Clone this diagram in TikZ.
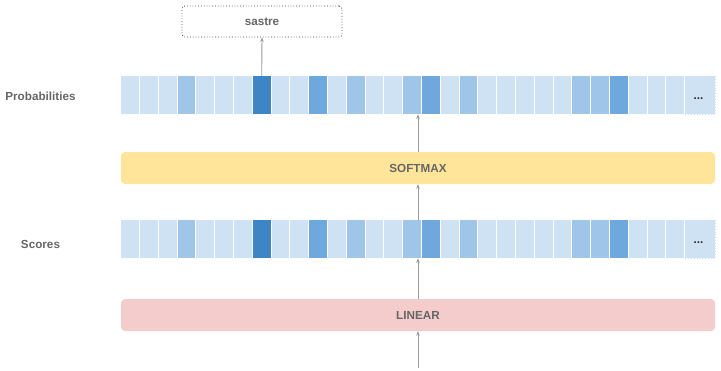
\documentclass[tikz,border=0pt]{standalone}
\usepackage{fontspec}
\setmainfont{Liberation Sans}
\usetikzlibrary{arrows.meta}
\definecolor{cL}{HTML}{CFE2F3}
\definecolor{cM}{HTML}{9FC5E8}
\definecolor{cD}{HTML}{6FA8DC}
\definecolor{cX}{HTML}{3D85C6}
\definecolor{txt}{HTML}{666666}
\definecolor{arr}{HTML}{999999}
\definecolor{soft}{HTML}{FFE599}
\definecolor{lin}{HTML}{F4CCCC}
\tikzset{
  cell/.style={anchor=north west, inner sep=0pt, minimum width=17.8pt, minimum height=38pt, fill=#1},
  dotcell/.style={anchor=north west, inner sep=0pt, minimum width=30pt, minimum height=38pt, fill=cL, draw=cL!85!cM, dotted, line width=0.8pt},
  lbl/.style={font=\fontsize{11.7}{13}\selectfont\bfseries, text=txt},
  dots/.style={font=\fontsize{11.5}{12}\selectfont\bfseries, text=black!85},
  bar/.style={rounded corners=4pt, minimum width=594pt, minimum height=32pt, inner sep=0pt, fill=#1, font=\fontsize{11.7}{13}\selectfont\bfseries, text=txt},
  conn/.style={draw=arr, line width=0.9pt, -{Stealth[length=4.5pt,width=3.5pt]}},
}
\begin{document}
\begin{tikzpicture}[x=1pt,y=-1pt]
\useasboundingbox (0,0) rectangle (721,370);
\def\cols{cL,cL,cL,cM,cL,cL,cL,cX,cL,cL,cD,cL,cM,cL,cL,cM,cD,cL,cM,cL,cL,cL,cL,cL,cM,cM,cD,cL,cL,cL}
\foreach \c [count=\i from 0] in \cols {
  \node[cell=\c] (p\i) at ({121+\i*18.8},76) {};
  \node[cell=\c] (s\i) at ({121+\i*18.8},220) {};
}
\node[dotcell] (p30) at (685,76) {};
\node[dotcell] (s30) at (685,220) {};
\node[dots] (pd) at (698.5,99) {...};
\node[dots] (sd) at (698.5,243) {...};

\node[lbl] (lp) at (40.5,96) {Probabilities};
\node[lbl] (ls) at (40.5,244) {Scores};

\node[bar=soft] (softmax) at (418,168) {SOFTMAX};
\node[bar=lin] (linear) at (418,315) {LINEAR};

\node[draw=black!75, dotted, line width=0.8pt, rounded corners=3pt, minimum width=160pt, minimum height=31pt, inner sep=0pt, lbl] (out) at (262,21.5) {sastre};

\coordinate (in) at (418,368);
\draw[conn] (in) -- (linear.south);
\draw[conn] (linear.north) -- (linear.north |- s0.south);
\draw[conn] (linear.north |- s0.north) -- (softmax.south);
\draw[conn] (softmax.north) -- (softmax.north |- p0.south);
\draw[conn] (p7.north) -- (out.south);
\end{tikzpicture}
\end{document}
